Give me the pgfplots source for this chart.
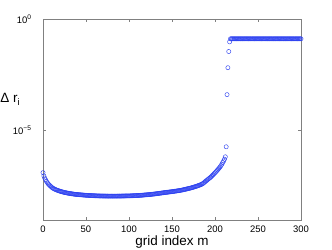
\documentclass[border=0pt]{standalone}
\usepackage{fontspec}
\setmainfont{Liberation Sans}
\usepackage{pgfplots}
\pgfplotsset{compat=1.18}
\definecolor{pts}{RGB}{45,65,240}
\definecolor{axgray}{RGB}{128,128,128}
\pgfplotstableread{
x y
0 1.32e-7
1 9.5e-8
2 7.6e-8
3 6.3e-8
4 5.4e-8
5 4.7e-8
6 4.2e-8
7 3.8e-8
8 3.47e-8
9 3.2e-8
10 2.95e-8
11 2.75e-8
12 2.6e-8
13 2.47e-8
14 2.37e-8
15 2.27e-8
16 2.19e-8
17 2.12e-8
18 2.05e-8
19 1.99e-8
20 1.93e-8
21 1.88e-8
22 1.84e-8
23 1.79e-8
24 1.75e-8
25 1.71e-8
26 1.68e-8
27 1.65e-8
28 1.62e-8
29 1.59e-8
30 1.57e-8
31 1.54e-8
32 1.52e-8
33 1.50e-8
34 1.48e-8
35 1.46e-8
36 1.44e-8
37 1.42e-8
38 1.41e-8
39 1.39e-8
40 1.38e-8
41 1.37e-8
42 1.36e-8
43 1.35e-8
44 1.34e-8
45 1.33e-8
46 1.32e-8
47 1.31e-8
48 1.30e-8
49 1.29e-8
50 1.28e-8
51 1.275e-8
52 1.27e-8
53 1.26e-8
54 1.255e-8
55 1.25e-8
56 1.24e-8
57 1.235e-8
58 1.23e-8
59 1.225e-8
60 1.22e-8
61 1.215e-8
62 1.21e-8
63 1.205e-8
64 1.20e-8
65 1.198e-8
66 1.195e-8
67 1.192e-8
68 1.19e-8
69 1.188e-8
70 1.185e-8
71 1.182e-8
72 1.18e-8
73 1.18e-8
74 1.18e-8
75 1.178e-8
76 1.175e-8
77 1.175e-8
78 1.175e-8
79 1.175e-8
80 1.175e-8
81 1.175e-8
82 1.175e-8
83 1.175e-8
84 1.175e-8
85 1.175e-8
86 1.175e-8
87 1.178e-8
88 1.18e-8
89 1.18e-8
90 1.18e-8
91 1.182e-8
92 1.185e-8
93 1.188e-8
94 1.19e-8
95 1.192e-8
96 1.195e-8
97 1.198e-8
98 1.20e-8
99 1.20e-8
100 1.20e-8
101 1.205e-8
102 1.21e-8
103 1.215e-8
104 1.22e-8
105 1.225e-8
106 1.23e-8
107 1.235e-8
108 1.24e-8
109 1.245e-8
110 1.25e-8
111 1.257e-8
112 1.265e-8
113 1.272e-8
114 1.28e-8
115 1.29e-8
116 1.30e-8
117 1.31e-8
118 1.32e-8
119 1.33e-8
120 1.34e-8
121 1.35e-8
122 1.36e-8
123 1.37e-8
124 1.38e-8
125 1.395e-8
126 1.41e-8
127 1.425e-8
128 1.44e-8
129 1.455e-8
130 1.47e-8
131 1.485e-8
132 1.50e-8
133 1.52e-8
134 1.54e-8
135 1.56e-8
136 1.58e-8
137 1.60e-8
138 1.62e-8
139 1.64e-8
140 1.66e-8
141 1.68e-8
142 1.70e-8
143 1.72e-8
144 1.74e-8
145 1.76e-8
146 1.78e-8
147 1.80e-8
148 1.82e-8
149 1.84e-8
150 1.86e-8
151 1.885e-8
152 1.91e-8
153 1.935e-8
154 1.96e-8
155 1.985e-8
156 2.01e-8
157 2.04e-8
158 2.07e-8
159 2.10e-8
160 2.13e-8
161 2.17e-8
162 2.21e-8
163 2.25e-8
164 2.30e-8
165 2.35e-8
166 2.40e-8
167 2.45e-8
168 2.50e-8
169 2.55e-8
170 2.60e-8
171 2.66e-8
172 2.73e-8
173 2.80e-8
174 2.87e-8
175 2.95e-8
176 3.03e-8
177 3.11e-8
178 3.20e-8
179 3.30e-8
180 3.40e-8
181 3.52e-8
182 3.65e-8
183 3.77e-8
184 3.90e-8
185 4.1e-8
186 4.3e-8
187 4.6e-8
188 5.0e-8
189 5.4e-8
190 5.8e-8
191 6.2e-8
192 6.7e-8
193 7.2e-8
194 7.7e-8
195 8.3e-8
196 9.0e-8
197 9.9e-8
198 1.08e-7
199 1.19e-7
200 1.30e-7
201 1.43e-7
202 1.58e-7
203 1.75e-7
204 1.94e-7
205 2.16e-7
206 2.42e-7
207 2.75e-7
208 3.16e-7
209 3.72e-7
210 4.37e-7
211 5.25e-7
212 6.76e-7
213 1.9e-6
214 4.1e-4
215 6.6e-3
216 3.5e-2
217 9.5e-2
218 0.13
219 0.13
220 0.13
221 0.13
222 0.13
223 0.13
224 0.13
225 0.13
226 0.13
227 0.13
228 0.13
229 0.13
230 0.13
231 0.13
232 0.13
233 0.13
234 0.13
235 0.13
236 0.13
237 0.13
238 0.13
239 0.13
240 0.13
241 0.13
242 0.13
243 0.13
244 0.13
245 0.13
246 0.13
247 0.13
248 0.13
249 0.13
250 0.13
251 0.13
252 0.13
253 0.13
254 0.13
255 0.13
256 0.13
257 0.13
258 0.13
259 0.13
260 0.13
261 0.13
262 0.13
263 0.13
264 0.13
265 0.13
266 0.13
267 0.13
268 0.13
269 0.13
270 0.13
271 0.13
272 0.13
273 0.13
274 0.13
275 0.13
276 0.13
277 0.13
278 0.13
279 0.13
280 0.13
281 0.13
282 0.13
283 0.13
284 0.13
285 0.13
286 0.13
287 0.13
288 0.13
289 0.13
290 0.13
291 0.13
292 0.13
293 0.13
294 0.13
295 0.13
296 0.13
297 0.13
298 0.13
299 0.13
300 0.13
}\datatable
\begin{document}
\begin{tikzpicture}
\begin{axis}[
  scale only axis, width=258bp, height=201bp,
  ymode=log, xmin=0, xmax=300, ymin=1e-9, ymax=1,
  xtick={0,50,...,300},
  ytick={1e-5,1}, yticklabels={10\textsuperscript{−5},10\textsuperscript{0}},
  yminorticks=false,
  tick align=inside, major tick length=3bp,
  axis line style={axgray, line width=0.8pt},
  tick style={axgray, line width=0.6pt},
  /pgf/number format/assume math mode=true,
  ticklabel style={font=\fontsize{9.5}{11}\selectfont},
  xticklabel style={yshift=-2bp},
  yticklabel style={xshift=-8bp},
  xlabel={grid index m},
  ylabel={Δ r\textsubscript{i}},
  label style={font=\fontsize{13.5}{16}\selectfont},
  xlabel style={at={(axis description cs:0.5,-0.128)}, anchor=base},
  ylabel style={rotate=-90, at={(axis description cs:-0.075,0.60)}, anchor=east},
  clip=false,
]
\addplot[only marks, mark=o, mark size=2.1bp, mark options={pts, line width=0.45pt}] table[x=x,y=y] {\datatable};
\end{axis}
\pgfresetboundingbox
\path (current axis.south west) ++(-43bp,-30bp) rectangle ([xshift=31bp,yshift=19bp]current axis.north east);
\end{tikzpicture}
\end{document}
